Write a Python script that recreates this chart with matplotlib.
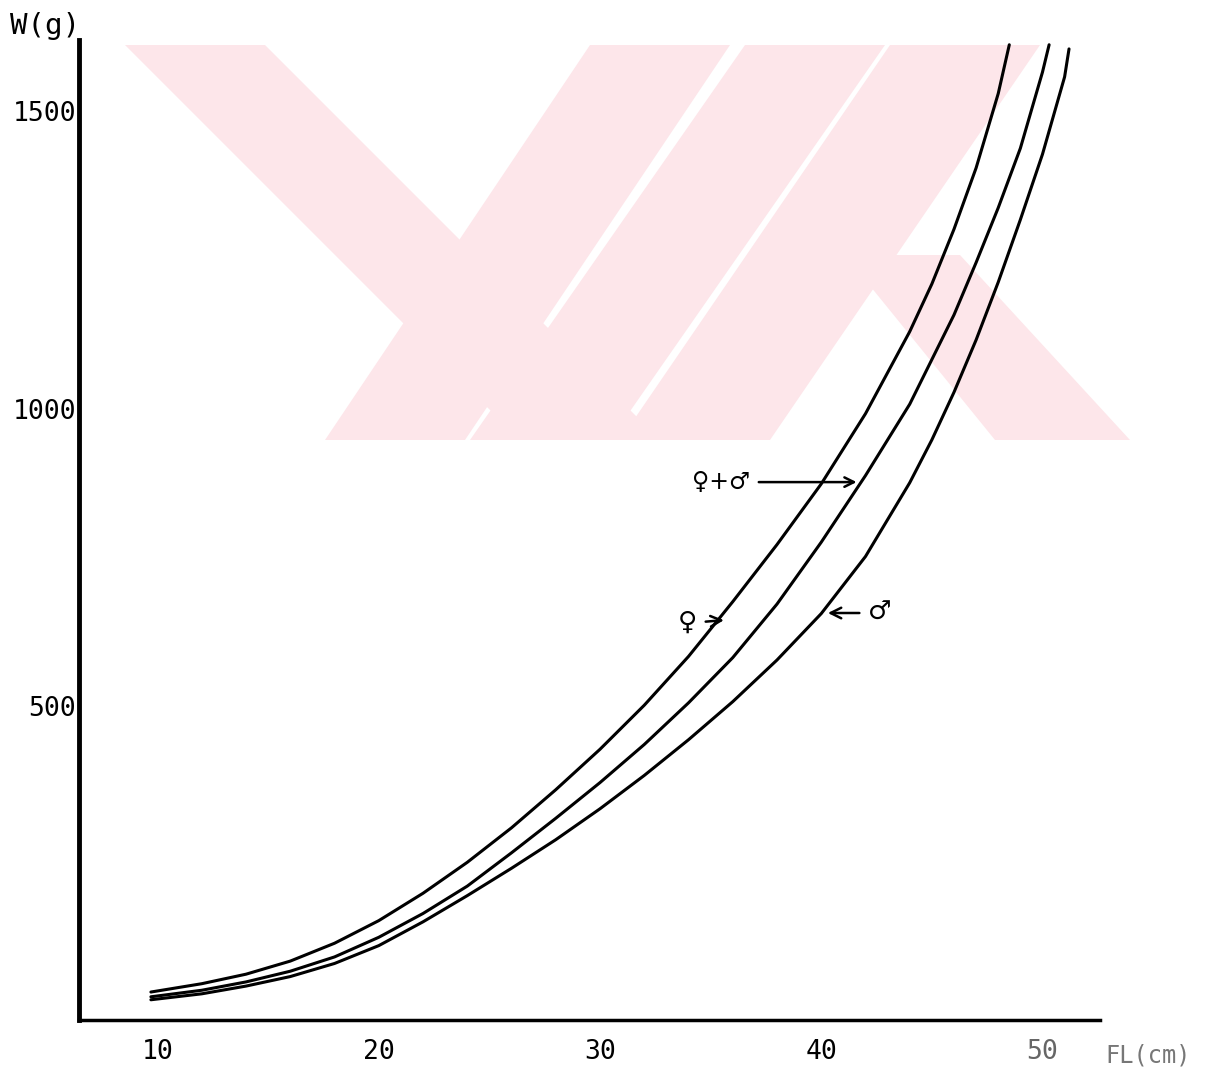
import matplotlib.pyplot as plt
from matplotlib.patches import Polygon

# ======== Data ========
# fork length FL (cm) -> weight W (g)
fl_female = [9.7, 12, 14, 16, 18, 20, 22, 24, 26, 28, 30, 32, 34, 36, 38, 40, 42, 44, 45, 46, 47, 48, 48.5]
w_female = [20, 34, 50, 72, 102, 140, 186, 238, 296, 360, 428, 502, 584, 676, 772, 874, 992, 1130, 1210, 1302, 1405, 1530, 1612]

fl_all = [9.7, 12, 14, 16, 18, 20, 22, 24, 26, 28, 30, 32, 34, 36, 38, 40, 42, 44, 46, 47, 48, 49, 50, 50.3]
w_all = [12, 23, 37, 55, 79, 112, 152, 198, 254, 312, 372, 436, 506, 582, 672, 776, 888, 1008, 1158, 1246, 1338, 1438, 1566, 1612]

fl_male = [9.7, 12, 14, 16, 18, 20, 22, 24, 26, 28, 30, 32, 34, 36, 38, 40, 42, 44, 45, 46, 47, 48, 49, 50, 51, 51.2]
w_male = [7, 17, 30, 46, 68, 98, 138, 182, 228, 276, 328, 384, 444, 508, 578, 656, 752, 876, 948, 1028, 1116, 1213, 1318, 1428, 1558, 1605]

x_ticks = [10, 20, 30, 40, 50]
y_ticks = [500, 1000, 1500]

W, H = 1222, 1067
FONT = 'DejaVu Sans Mono'

fig = plt.figure(figsize=(W / 100, H / 100), dpi=100)


def px(x, y):
    # pixel (from top-left) -> figure fraction
    return (x / W, 1 - y / H)


# ======== Watermark (pale pink bands) ========
pink = '#fde6ea'
bands = [
    [(125, 45), (265, 45), (660, 440), (520, 440)],
    [(590, 45), (730, 45), (465, 440), (325, 440)],
    [(745, 45), (885, 45), (610, 440), (470, 440)],
    [(890, 45), (1040, 45), (770, 440), (620, 440)],
    [(845, 255), (960, 255), (1130, 440), (995, 440)],
]
for b in bands:
    fig.add_artist(Polygon([px(*p) for p in b], closed=True, transform=fig.transFigure,
                           facecolor=pink, edgecolor='none', zorder=0))

# ======== Axes ========
ax = fig.add_axes([79 / W, 47 / H, (1100 - 79) / W, (1020 - 40) / H])
ax.patch.set_alpha(0)
ax.set_xlim(6.45, 52.6)
ax.set_ylim(-27, 1620)

for s in ['top', 'right']:
    ax.spines[s].set_visible(False)
ax.spines['left'].set_linewidth(3.5)
ax.spines['bottom'].set_linewidth(2.5)

ax.set_xticks(x_ticks)
ax.set_yticks(y_ticks)
ax.tick_params(length=0, pad=14)
ax.set_xticklabels([str(t) for t in x_ticks], fontfamily=FONT, fontsize=19)
ax.set_yticklabels([str(t) for t in y_ticks], fontfamily=FONT, fontsize=19)
ax.tick_params(axis='y', pad=2)
ax.get_xticklabels()[-1].set_color('#666666')

# ======== Curves ========
for fl, w in [(fl_female, w_female), (fl_all, w_all), (fl_male, w_male)]:
    ax.plot(fl, w, color='black', lw=2.2, solid_capstyle='round', solid_joinstyle='round')

# ======== Labels ========
fig.text(10 / W, 1 - 34 / H, 'W(g)', fontfamily=FONT, fontsize=21)
fig.text(1105 / W, 1 - 1062 / H, 'FL(cm)', fontfamily=FONT, fontsize=17, color='#777777')

arrow = dict(arrowstyle='->', color='black', lw=1.8, shrinkA=4, shrinkB=0)
ax.annotate('\u2640+\u2642', xy=(41.6, 877), xytext=(36.8, 877), fontsize=17,
            ha='right', va='center', arrowprops=arrow)
ax.annotate('\u2640', xy=(35.6, 645), xytext=(34.4, 640), fontsize=19,
            ha='right', va='center', arrowprops=arrow)
ax.annotate('\u2642', xy=(40.3, 657), xytext=(42.1, 657), fontsize=19,
            ha='left', va='center', arrowprops=arrow)

fig.savefig('out.png', dpi=100)
